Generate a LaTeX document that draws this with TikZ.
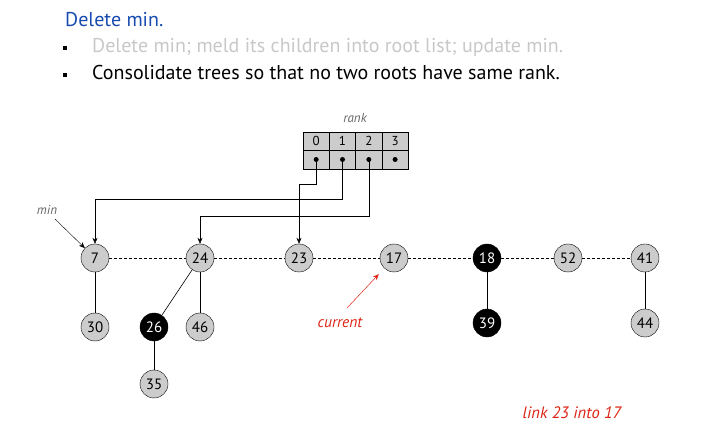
\documentclass[tikz,border=0pt]{standalone}
\usepackage{fontspec}
\setmainfont{PT Sans}
\usepackage{xcolor}
\usetikzlibrary{arrows.meta, positioning}

\definecolor{titleblue}{RGB}{25,75,175}
\definecolor{fadedtext}{RGB}{200,200,200}
\definecolor{keygray}{RGB}{204,204,204}
\definecolor{notered}{RGB}{220,35,20}
\definecolor{labelgray}{RGB}{100,100,100}

\begin{document}
\begin{tikzpicture}[x=1pt, y=-1pt]
    % Define styles
    \tikzstyle{key}=[circle, draw, fill=keygray, inner sep=0pt, minimum size=28pt, font=\fontsize{15}{15}\selectfont]
    \tikzstyle{marked}=[key, fill=black, text=white]
    \tikzstyle{child} = [draw=black, semithick]
    \tikzstyle{rootlink} = [draw=black, densely dashed, very thin]
    \tikzstyle{pointer} = [draw=black, -{Stealth[length=6pt, width=5pt]}]
    \tikzstyle{cell} = [draw, fill=keygray, minimum width=26.3pt, minimum height=18.5pt, inner sep=0pt, font=\fontsize{13}{13}\selectfont]
    \tikzstyle{bullet} = [fill=black, inner sep=0pt, minimum size=4pt]
    \tikzstyle{line} = [anchor=base west, inner sep=0pt, font=\fontsize{20}{20}\selectfont]
    \tikzstyle{tag} = [text=labelgray, font=\fontsize{13}{13}\selectfont\itshape]
    \tikzstyle{note} = [text=notered, font=\fontsize{15.5}{15.5}\selectfont\itshape]

    \useasboundingbox (0,0) rectangle (712,443);

    % Slide text
    \node[line, text=titleblue] (title) at (65,27) {Delete min.};
    \node[bullet] (b1) at (65,48) {};
    \node[line, text=fadedtext] (step1) at (92,53) {Delete min; meld its children into root list; update min.};
    \node[bullet] (b2) at (65,75) {};
    \node[line] (step2) at (92,80) {Consolidate trees so that no two roots have same rank.};

    % Draw the rank array
    \node[tag] (rank) at (355,118) {rank};
    \foreach \i in {0,...,3} {
        \node[cell] (h\i) at (316.2+26.3*\i,141) {\i};
        \node[cell] (p\i) at (316.2+26.3*\i,159.5) {};
        \node[circle, fill=black, inner sep=0pt, minimum size=5pt] (d\i) at (p\i) {};
    }

    % Draw the roots
    \foreach \name/\x in {7/95, 24/200, 23/299, 17/394, 52/568, 41/645}
        \node[key] (n\name) at (\x,258) {\name};
    \node[marked] (n18) at (487,258) {18};

    % Draw the children
    \foreach \name/\x/\y in {30/95/327, 46/200/327, 35/154/384, 44/645/323}
        \node[key] (n\name) at (\x,\y) {\name};
    \node[marked] (n26) at (154,327) {26};
    \node[marked] (n39) at (487,323) {39};

    % Root list and tree edges
    \draw[rootlink] (n7) -- (n24) -- (n23) -- (n17) -- (n18) -- (n52) -- (n41);
    \foreach \u/\v in {7/30, 24/26, 24/46, 26/35, 18/39, 41/44}
        \draw[child] (n\u) -- (n\v);

    % Pointers out of the rank array
    \draw[pointer] (d0.center) -- ++(0,25) -| (n23);
    \draw[pointer] (d1.center) -- ++(0,40) -| (n7);
    \draw[pointer] (d2.center) -- ++(0,57) -| (n24);

    % min and current
    \node[tag] (minlbl) at (47,210) {min};
    \coordinate (mintail) at (55,219);
    \draw[pointer] (mintail) -- (n7);
    \node[note] (current) at (340,323) {current};
    \coordinate (curtail) at (347,308);
    \draw[pointer, draw=notered, fill=notered, shorten >=8pt] (curtail) -- (n17);

    \node[note, font=\fontsize{16.5}{16.5}\selectfont\itshape] (link) at (572,413) {link 23 into 17};
\end{tikzpicture}
\end{document}
